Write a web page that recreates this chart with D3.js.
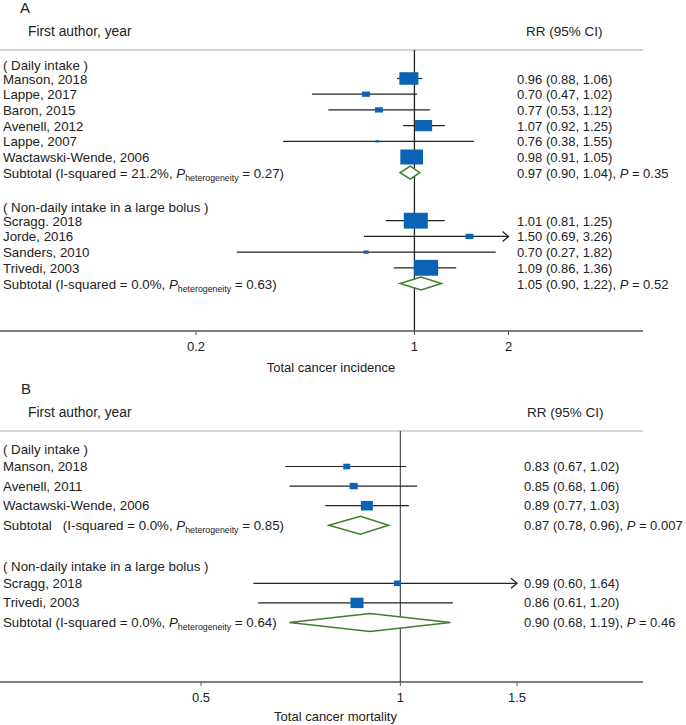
<!DOCTYPE html>
<html><head><meta charset="utf-8">
<script src="https://cdn.jsdelivr.net/npm/d3@7"></script>
<style>body{margin:0;background:#fff}svg{display:block;font-family:"Liberation Sans",Arial,Helvetica,sans-serif}</style>
</head><body><svg id="c" width="686" height="725"></svg>
<script>
// ---------- DATA ----------
const groupNames = ["( Daily intake )", "( Non-daily intake in a large bolus )"];

// Panel A: total cancer incidence
const incStudies = ["Manson, 2018","Lappe, 2017","Baron, 2015","Avenell, 2012","Lappe, 2007","Wactawski-Wende, 2006",
                    "Scragg. 2018","Jorde, 2016","Sanders, 2010","Trivedi, 2003"];
const incGroup  = [0,0,0,0,0,0,1,1,1,1];
const incRR     = [0.96,0.70,0.77,1.07,0.76,0.98,1.01,1.50,0.70,1.09];
const incLo     = [0.88,0.47,0.53,0.92,0.38,0.91,0.81,0.69,0.27,0.86];
const incHi     = [1.06,1.02,1.12,1.25,1.55,1.05,1.25,3.26,1.82,1.36];
const incWeight = [14.2,2.5,2.5,11.4,0.5,20.2,22.6,2.5,1.0,22.6];
const incSubPrefix = ["Subtotal (","Subtotal ("];
const incSubRR  = [0.97,1.05];
const incSubLo  = [0.90,0.90];
const incSubHi  = [1.04,1.22];
const incI2     = ["21.2%","0.0%"];
const incPhet   = ["0.27","0.63"];
const incP      = ["0.35","0.52"];
const incTicks  = [0.2,1,2];
const incTickLabels = ["0.2","1","2"];

// Panel B: total cancer mortality
const morStudies = ["Manson, 2018","Avenell, 2011","Wactawski-Wende, 2006","Scragg, 2018","Trivedi, 2003"];
const morGroup  = [0,0,0,1,1];
const morRR     = [0.83,0.85,0.89,0.99,0.86];
const morLo     = [0.67,0.68,0.77,0.60,0.61];
const morHi     = [1.02,1.06,1.03,1.64,1.20];
const morWeight = [10.3,13.5,30.3,10.3,35.6];
const morSubPrefix = ["Subtotal   (","Subtotal ("];
const morSubRR  = [0.87,0.90];
const morSubLo  = [0.78,0.68];
const morSubHi  = [0.96,1.19];
const morI2     = ["0.0%","0.0%"];
const morPhet   = ["0.85","0.64"];
const morP      = ["0.007","0.46"];
const morTicks  = [0.5,1,1.5];
const morTickLabels = ["0.5","1","1.5"];

const panelLetters = ["A","B"];
const axisTitles = ["Total cancer incidence","Total cancer mortality"];
const colHeaders = ["First author, year","RR (95% CI)"];

// ---------- DRAW ----------
const svg = d3.select("#c");
const f2 = d3.format(".2f");
const FS = 13.3;
const BLUE = "#0b63b6", GREEN = "#3d7f2b";

function drawPanel(cfg) {
  const g = svg.append("g");
  const x = d3.scaleLog().domain([cfg.ticks[0], cfg.ticks[cfg.ticks.length-1]]).range(cfg.xRange);
  const xMax = cfg.ticks[cfg.ticks.length-1], xMin = cfg.ticks[0];

  g.append("text").attr("x", cfg.letterX).attr("y", cfg.letterY).attr("font-size", 15).attr("fill","#222").text(cfg.letter);
  g.append("text").attr("x", 28).attr("y", cfg.headY).attr("font-size", 13.8).attr("fill","#222").text(colHeaders[0]);
  g.append("text").attr("x", cfg.rrHeadX).attr("y", cfg.headY).attr("font-size", 13.5).attr("fill","#222").text(colHeaders[1]);
  g.append("line").attr("x1",0).attr("x2",643).attr("y1",cfg.lineY).attr("y2",cfg.lineY)
    .attr("stroke","#c9c9c9").attr("stroke-width",1.6);

  const rows = [];
  let y = cfg.y0;
  groupNames.forEach((gn, gi) => {
    if (gi > 0) y += cfg.groupGap;
    rows.push({type:"head", y, label: gn});
    y += cfg.headGap;
    cfg.studies.forEach((s, i) => {
      if (cfg.group[i] !== gi) return;
      rows.push({type:"study", y, label:s, rr:cfg.rr[i], lo:cfg.lo[i], hi:cfg.hi[i], w:cfg.weight[i]});
      y += cfg.step;
    });
    rows.push({type:"sub", y, gi, rr:cfg.subRR[gi], lo:cfg.subLo[gi], hi:cfg.subHi[gi]});
  });

  g.append("line").attr("x1",x(1)).attr("x2",x(1)).attr("y1",cfg.lineY).attr("y2",cfg.axisY)
    .attr("stroke",cfg.refColor).attr("stroke-width",1.3);

  const axisG = g.append("g").attr("transform",`translate(0,${cfg.axisY})`);
  axisG.append("line").attr("x1",0).attr("x2",643).attr("stroke","#555").attr("stroke-width",1.3);
  cfg.ticks.forEach((t, i) => {
    axisG.append("line").attr("x1",x(t)).attr("x2",x(t)).attr("y1",0).attr("y2",4).attr("stroke","#555").attr("stroke-width",1);
    axisG.append("text").attr("x",x(t)).attr("y",cfg.tickDy).attr("text-anchor","middle").attr("font-size",13).attr("fill","#222").text(cfg.tickLabels[i]);
  });
  g.append("text").attr("x",cfg.titleX).attr("y",cfg.titleY).attr("text-anchor","middle").attr("font-size",13).attr("fill","#222").text(cfg.title);

  rows.forEach(r => {
    const by = r.y + cfg.textDy;
    if (r.type === "head") {
      g.append("text").attr("x",3).attr("y",by).attr("font-size",FS).attr("fill","#222").text(r.label);
    } else if (r.type === "study") {
      g.append("text").attr("x",3).attr("y",by).attr("font-size",FS).attr("fill","#222").text(r.label);
      const clipped = r.hi > xMax;
      const x1 = x(Math.max(r.lo, xMin)), x2 = x(Math.min(r.hi, xMax));
      g.append("line").attr("x1",x1).attr("x2",x2).attr("y1",r.y).attr("y2",r.y).attr("stroke","#222").attr("stroke-width",1.2);
      if (clipped) {
        g.append("path").attr("d",`M${x2-6},${r.y-5}L${x2},${r.y}L${x2-6},${r.y+5}`)
          .attr("fill","none").attr("stroke","#222").attr("stroke-width",1.3);
      }
      const bw = cfg.boxK * Math.sqrt(r.w), bh = bw * cfg.boxAspect;
      g.append("rect").attr("x",x(r.rr)-bw/2).attr("y",r.y-bh/2).attr("width",bw).attr("height",bh).attr("fill",BLUE);
      g.append("text").attr("x",cfg.valX).attr("y",by).attr("font-size",13).attr("fill","#222")
        .text(`${f2(r.rr)} (${f2(r.lo)}, ${f2(r.hi)})`);
    } else {
      const t = g.append("text").attr("x",3).attr("y",by).attr("font-size",FS).attr("fill","#222").style("white-space","pre");
      t.append("tspan").text(`${cfg.subPrefix[r.gi]}I-squared = ${cfg.i2[r.gi]}, `);
      t.append("tspan").attr("font-style","italic").text("P");
      t.append("tspan").attr("font-size",8.8).attr("dy",3).text("heterogeneity");
      t.append("tspan").attr("dy",-3).text(` = ${cfg.phet[r.gi]})`);
      const dh = cfg.diaH;
      g.append("path").attr("d",`M${x(r.lo)},${r.y}L${x(r.rr)},${r.y-dh}L${x(r.hi)},${r.y}L${x(r.rr)},${r.y+dh}Z`)
        .attr("fill","#fff").attr("stroke",GREEN).attr("stroke-width",1.5);
      const v = g.append("text").attr("x",cfg.valX).attr("y",by).attr("font-size",13).attr("fill","#222").style("white-space","pre");
      v.append("tspan").text(`${f2(r.rr)} (${f2(r.lo)}, ${f2(r.hi)}), `);
      v.append("tspan").attr("font-style","italic").text("P");
      v.append("tspan").text(` = ${cfg.p[r.gi]}`);
    }
  });
}

drawPanel({
  letter: panelLetters[0], letterX: 20, letterY: 13, headY: 36, rrHeadX: 526, lineY: 50,
  studies: incStudies, group: incGroup, rr: incRR, lo: incLo, hi: incHi, weight: incWeight,
  subPrefix: incSubPrefix, subRR: incSubRR, subLo: incSubLo, subHi: incSubHi, i2: incI2, phet: incPhet, p: incP,
  ticks: incTicks, tickLabels: incTickLabels, xRange: [196, 508.5],
  y0: 64.5, headGap: 14, step: 15.7, groupGap: 34, textDy: 5,
  axisY: 331, tickDy: 19.5, titleX: 331, titleY: 371.5, title: axisTitles[0],
  refColor: "#222", valX: 517, boxK: 5.05, boxAspect: 0.66, diaH: 6.5
});
drawPanel({
  letter: panelLetters[1], letterX: 21, letterY: 394, headY: 417, rrHeadX: 527, lineY: 431,
  studies: morStudies, group: morGroup, rr: morRR, lo: morLo, hi: morHi, weight: morWeight,
  subPrefix: morSubPrefix, subRR: morSubRR, subLo: morSubLo, subHi: morSubHi, i2: morI2, phet: morPhet, p: morP,
  ticks: morTicks, tickLabels: morTickLabels, xRange: [201, 517],
  y0: 449.5, headGap: 17, step: 19.6, groupGap: 41, textDy: 4.5,
  axisY: 682, tickDy: 19.5, titleX: 335.5, titleY: 721, title: axisTitles[1],
  refColor: "#555", valX: 524, boxK: 2.18, boxAspect: 0.8, diaH: 9
});
</script></body></html>
